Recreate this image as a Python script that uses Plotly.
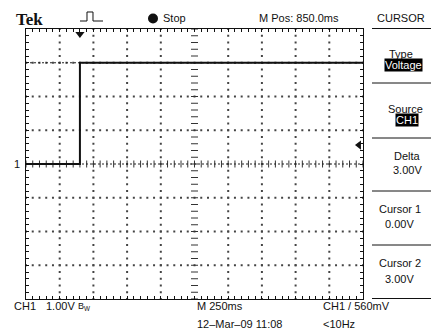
import numpy as np
import plotly.graph_objects as go

# ---- data ----
time_ms = [-400, 0, 0, 2100]        # time relative to trigger (ms)
ch1_volts = [0.0, 0.0, 3.0, 3.0]    # CH1 voltage (V)
time_per_div = 250                  # ms/div
m_pos = 850.0                       # ms (screen centre)
volts_per_div = 1.0
trigger_level = 0.56                # V
cursor1 = 0.0                       # V
cursor2 = 3.0                       # V

W, H = 431, 331
L, R, T, B = 26, 363, 29, 299

def px(x):
    return (x - L) / (R - L)

def py(y):
    return (B - y) / (B - T)

x0 = m_pos - 5 * time_per_div
x1 = m_pos + 5 * time_per_div
y0, y1 = -4 * volts_per_div, 4 * volts_per_div

fig = go.Figure()

dot = dict(symbol="square", size=2, color="#444")
gx, gy = [], []
for k in range(1, 10):
    if k == 5:
        continue
    xv = x0 + k * time_per_div
    for j in range(41):
        gx.append(xv); gy.append(y0 + j * 0.2 * volts_per_div)
for k in range(1, 8):
    if k == 4:
        continue
    yv = y0 + k * volts_per_div
    for j in range(51):
        gx.append(x0 + j * 0.2 * time_per_div); gy.append(yv)
fig.add_trace(go.Scatter(x=gx, y=gy, mode="markers", marker=dot, hoverinfo="skip"))

cx = [x0 + j * 0.2 * time_per_div for j in range(51)]
fig.add_trace(go.Scatter(x=cx, y=[0] * len(cx), mode="markers",
                         marker=dict(symbol="line-ns", size=5, line=dict(width=1, color="#333")),
                         hoverinfo="skip"))
cy = [y0 + j * 0.2 * volts_per_div for j in range(41)]
fig.add_trace(go.Scatter(x=[m_pos] * len(cy), y=cy, mode="markers",
                         marker=dict(symbol="line-ew", size=5, line=dict(width=1, color="#333")),
                         hoverinfo="skip"))

for cv in (cursor1, cursor2):
    fig.add_trace(go.Scatter(x=[x0, x1], y=[cv, cv], mode="lines",
                             line=dict(color="#222", width=1, dash="2px,2px"), hoverinfo="skip"))

fig.add_trace(go.Scatter(x=time_ms, y=ch1_volts, mode="lines",
                         line=dict(color="#111", width=2), hoverinfo="skip"))

fig.add_trace(go.Scatter(x=[0], y=[y1 - 0.15], mode="markers", cliponaxis=False,
                         marker=dict(symbol="triangle-down", size=8, color="#111"), hoverinfo="skip"))
fig.add_trace(go.Scatter(x=[x1 - 0.12 * time_per_div], y=[trigger_level], mode="markers", cliponaxis=False,
                         marker=dict(symbol="triangle-left", size=8, color="#111"), hoverinfo="skip"))
fig.add_trace(go.Scatter(x=[x0 - 0.1 * time_per_div], y=[0], mode="markers", cliponaxis=False,
                         marker=dict(symbol="triangle-right", size=6, color="#111"), hoverinfo="skip"))

SANS = "Liberation Sans, Arial, sans-serif"
ann = []
def text(t, x, y, size=11, anchor="left", font=SANS, color="#111", bg=None, bold=False):
    d = dict(text=("<b>%s</b>" % t) if bold else t, x=px(x), y=py(y), xref="paper", yref="paper",
             xanchor=anchor, yanchor="middle", showarrow=False,
             font=dict(family=font, size=size, color=color))
    if bg:
        d["bgcolor"] = bg
        d["borderpad"] = 0
    ann.append(d)

text("Tek", 14, 19.5, size=17, font="Liberation Serif, serif", bold=True)
text("Stop", 161, 18.5)
text("M Pos: %.1fms" % m_pos, 257, 18)
text("CURSOR", 401, 18, anchor="center")
text("Type", 401, 54, anchor="center")
text("Voltage", 403, 65, anchor="center", color="white", bg="black")
text("Source", 405, 109, anchor="center")
text("CH1", 407, 120, anchor="center", color="white", bg="black")
text("Delta", 407, 156, anchor="center")
text("%.2fV" % (cursor2 - cursor1), 407, 170, anchor="center")
text("Cursor 1", 400, 209, anchor="center")
text("%.2fV" % cursor1, 400, 224, anchor="center")
text("Cursor 2", 400, 263, anchor="center")
text("%.2fV" % cursor2, 400, 279, anchor="center")
text("1", 12, 164)
text("CH1", 12, 306)
text("%.2fV" % volts_per_div, 44, 306)
text("B<sub>W</sub>", 76, 306, size=9)
text("M %dms" % time_per_div, 195, 306)
text("12\u2013Mar\u201309 11:08", 195, 324)
text("CH1 / %dmV" % round(trigger_level * 1000), 321, 306)
text("&lt;10Hz", 321, 324)

shapes = []
for yy in (28.5, 83, 138, 191, 245, 298.5):
    shapes.append(dict(type="line", xref="paper", yref="paper", x0=px(372), x1=px(431),
                       y0=py(yy), y1=py(yy), line=dict(color="#111", width=1)))
pts = [(80, 21), (87, 21), (87, 12), (93, 12), (93, 21), (103, 21)]
path = "M " + " L ".join("%.4f,%.4f" % (px(a), py(b)) for a, b in pts)
shapes.append(dict(type="path", xref="paper", yref="paper", path=path,
                   line=dict(color="#111", width=1)))
# "Stop" bullet
shapes.append(dict(type="circle", xref="paper", yref="paper", x0=px(148), x1=px(158),
                   y0=py(23.5), y1=py(13.5), fillcolor="#111", line=dict(color="#111", width=0)))

fig.update_layout(
    width=W, height=H, margin=dict(l=L, r=W - R, t=T, b=H - B),
    paper_bgcolor="white", plot_bgcolor="white", showlegend=False,
    annotations=ann, shapes=shapes,
    xaxis=dict(range=[x0, x1], showgrid=False, zeroline=False, showline=True, linecolor="#111",
               linewidth=1, mirror="ticks", ticks="inside", tick0=x0, dtick=0.2 * time_per_div,
               ticklen=3, tickcolor="#111", showticklabels=False, fixedrange=True),
    yaxis=dict(range=[y0, y1], showgrid=False, zeroline=False, showline=True, linecolor="#111",
               linewidth=1, mirror="ticks", ticks="inside", tick0=y0, dtick=0.2 * volts_per_div,
               ticklen=3, tickcolor="#111", showticklabels=False, fixedrange=True),
)

fig.write_html("out.html", config={"displayModeBar": False},
               post_script="document.body.style.margin='0';document.body.style.overflow='hidden';")
